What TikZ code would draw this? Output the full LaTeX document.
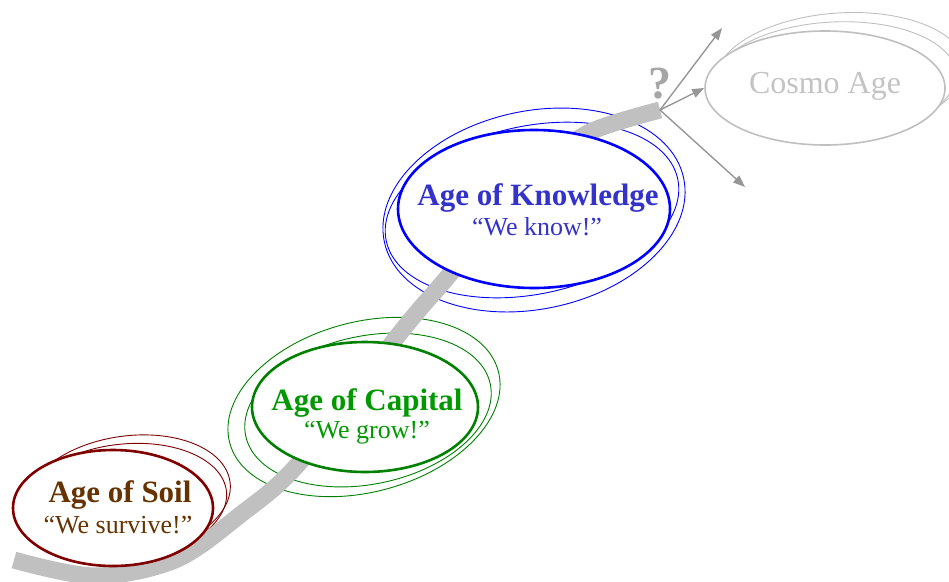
\documentclass[tikz,border=0pt]{standalone}
\usepackage{fontspec}
\setmainfont{Liberation Serif}
\usetikzlibrary{shapes.geometric,arrows.meta}
\definecolor{soilred}{RGB}{128,0,0}
\definecolor{soiltext}{RGB}{102,51,0}
\definecolor{capgreen}{RGB}{0,128,0}
\definecolor{captext}{RGB}{0,153,0}
\definecolor{knowblue}{RGB}{0,0,255}
\definecolor{knowtext}{RGB}{51,51,204}
\definecolor{cosmoline}{RGB}{191,191,191}
\definecolor{cosmotext}{RGB}{195,195,195}
\definecolor{roadgray}{RGB}{192,192,192}
\definecolor{forkgray}{RGB}{150,150,150}
\definecolor{askgray}{RGB}{166,166,166}
\begin{document}
\begin{tikzpicture}[x=1pt,y=-1pt,
  halo/.style={line width=0.9pt},
  era/.style={ellipse, fill=white, line width=2.6pt, inner sep=0pt},
  title/.style={anchor=base, font=\fontsize{31}{31}\selectfont\bfseries},
  motto/.style={anchor=base, font=\fontsize{26}{26}\selectfont},
  fork/.style={forkgray, line width=1.4pt, -{Triangle[length=12pt,width=9pt]}}]
\useasboundingbox (0,0) rectangle (949,581);

% faint echo rings behind each era
\draw[halo, soilred, shift={(128,496)}, rotate=8] (0,0) ellipse [x radius=103pt, y radius=60pt];
\draw[halo, soilred, shift={(125,502)}, rotate=6] (0,0) ellipse [x radius=102pt, y radius=58pt];
\draw[halo, capgreen, shift={(364,407)}, rotate=15] (0,0) ellipse [x radius=139pt, y radius=85pt];
\draw[halo, capgreen, shift={(368,410)}, rotate=12] (0,0) ellipse [x radius=125pt, y radius=74pt];
\draw[halo, knowblue, shift={(534,210)}, rotate=12] (0,0) ellipse [x radius=153pt, y radius=99pt];
\draw[halo, knowblue, shift={(532,210)}, rotate=12] (0,0) ellipse [x radius=149pt, y radius=84pt];
\draw[halo, cosmoline, shift={(840,74)}, rotate=4] (0,0) ellipse [x radius=125pt, y radius=61pt];
\draw[halo, cosmoline, shift={(834,80)}, rotate=3] (0,0) ellipse [x radius=122pt, y radius=58pt];

% the road
\coordinate (roadstart) at (14,560);
\coordinate (roadend) at (660,110);
\draw[roadgray, line width=17pt] plot[smooth, tension=0.55] coordinates {
  (roadstart) (95,576) (175,560) (240,515) (300,462) (400,333) (445,280)
  (500,215) (545,166) (590,132) (roadend)};

% the eras
\node[era, draw=soilred, minimum width=200pt, minimum height=116pt] (soil) at (113,508) {};
\node[era, draw=capgreen, minimum width=226pt, minimum height=130pt] (capital) at (365,407) {};
\node[era, draw=knowblue, minimum width=272pt, minimum height=158pt] (knowledge) at (534,209) {};
\node[era, draw=cosmoline, line width=1.6pt, minimum width=240pt, minimum height=114pt] (cosmo) at (825,88) {};

\node[title, text=soiltext] (soilname) at (120,502) {Age of Soil};
\node[motto, text=soiltext] (soilmotto) at (118,533) {“We survive!”};
\node[title, text=captext] (capname) at (367,410) {Age of Capital};
\node[motto, text=captext] (capmotto) at (367,438) {“We grow!”};
\node[title, text=knowtext] (knowname) at (538,205) {Age of Knowledge};
\node[motto, text=knowtext] (knowmotto) at (537,235) {“We know!”};
\node[anchor=base, text=cosmotext, font=\fontsize{32}{32}\selectfont] (cosmoname) at (825,93) {Cosmo Age};

% the open question at the end of the road
\node[anchor=base, text=askgray, font=\fontsize{46}{46}\selectfont\bfseries] (ask) at (660,98) {?};
\coordinate (forkup) at (722,28);
\coordinate (forkdown) at (745,187);
\draw[fork] (roadend) -- (forkup);
\draw[fork] (roadend) -- (cosmo.west);
\draw[fork] (roadend) -- (forkdown);
\end{tikzpicture}
\end{document}
